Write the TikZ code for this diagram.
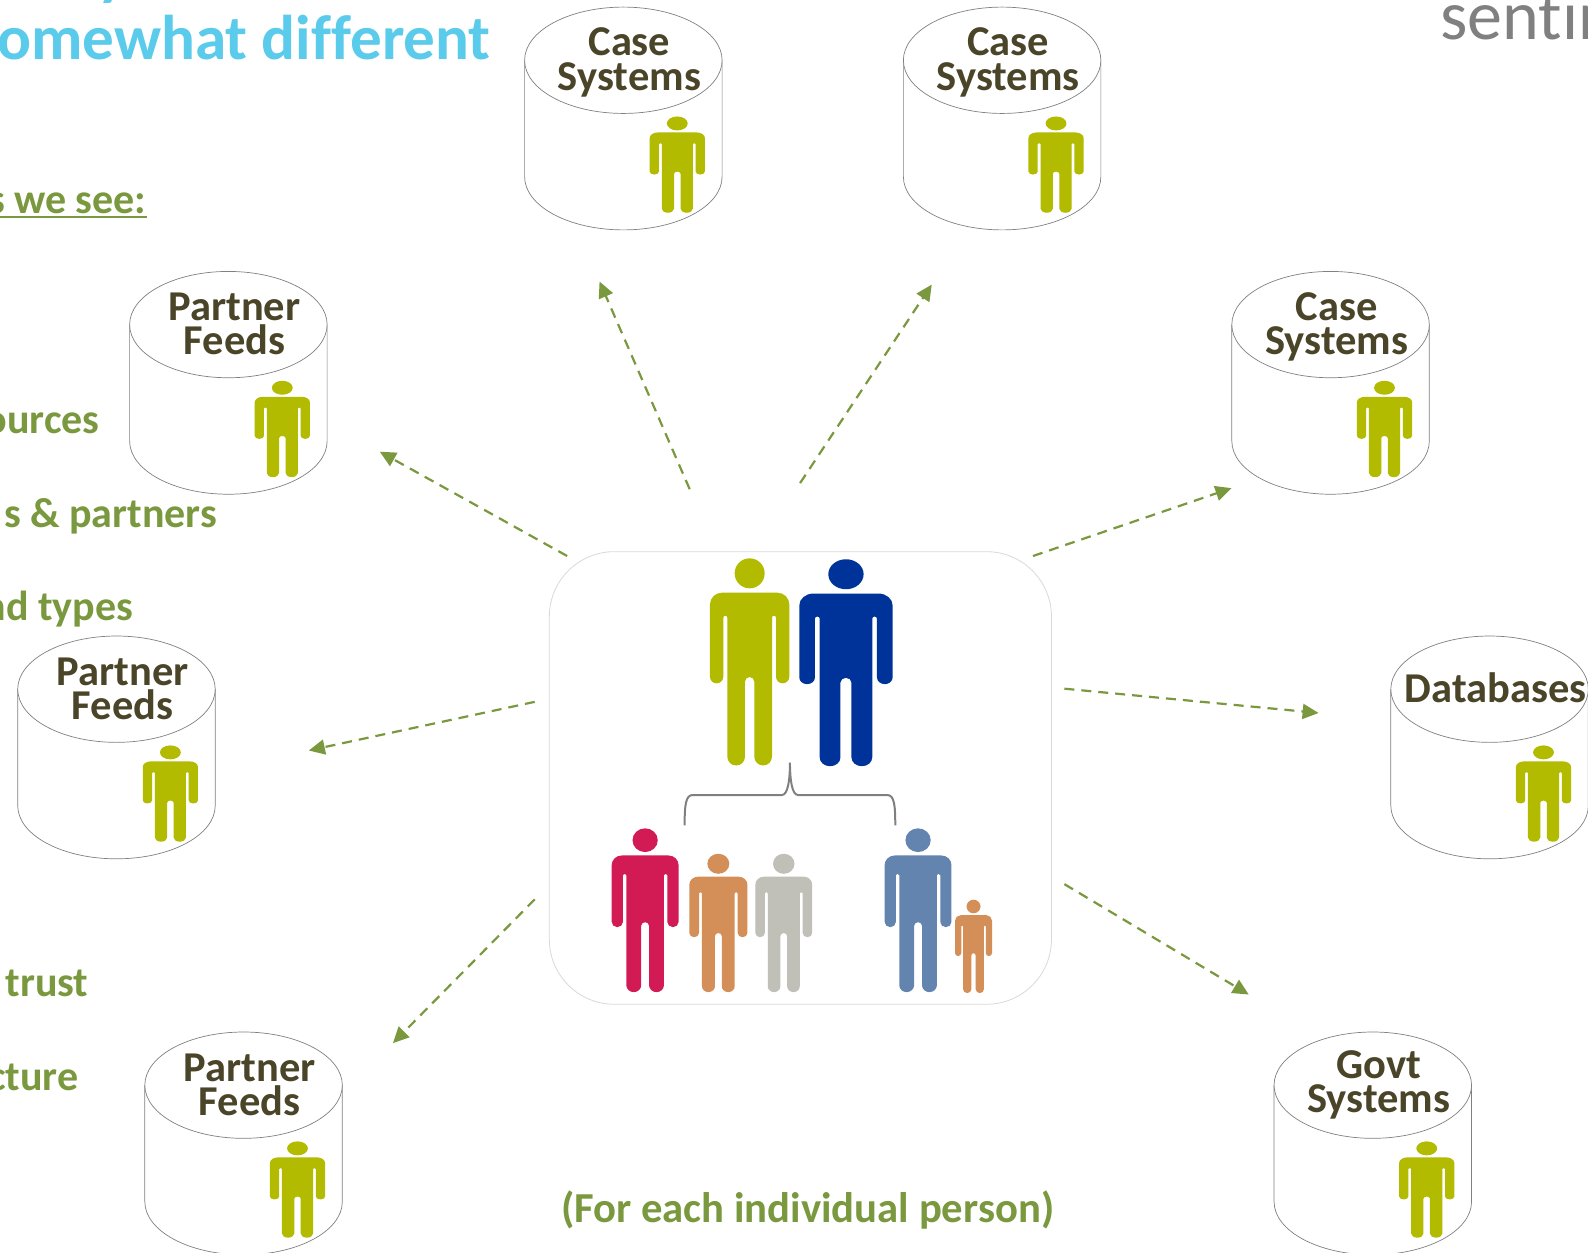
\documentclass[tikz,border=0pt]{standalone}
\usepackage{fontspec}
\setmainfont[Ligatures=NoCommon]{Carlito}
\usetikzlibrary{arrows.meta}
\definecolor{greentxt}{HTML}{7A983E}
\definecolor{titleblue}{HTML}{5BCBEB}
\definecolor{darktxt}{HTML}{4A4428}
\definecolor{pyellow}{HTML}{B2BB00}
\definecolor{pblue}{HTML}{003399}
\definecolor{pmagenta}{HTML}{D21B55}
\definecolor{porange}{HTML}{D48F58}
\definecolor{pgrey}{HTML}{C0BFB8}
\definecolor{psteel}{HTML}{6284AF}
\tikzset{
  x=1.01276pt,y=-1.01276pt,
  cylline/.style={draw=black!50,line width=0.7pt,fill=white},
  cyllabel/.style={font=\bfseries\fontsize{42.5}{34.5}\selectfont,text=darktxt,align=center,inner sep=0pt},
  greenlabel/.style={font=\bfseries\fontsize{42}{44}\selectfont,text=greentxt,inner sep=0pt},
  flow/.style={draw=greentxt,line width=2.2pt,dash pattern=on 10pt off 7pt,-{Triangle[length=16pt,width=15pt]}},
  bracketline/.style={draw=black!50,line width=2pt},
  famframe/.style={draw=black!15,line width=0.8pt,fill=white,rounded corners=65pt}
}
\newcommand{\personfig}[5]{%
  \pgfmathsetmacro{\pcx}{((#1)+(#2))/2}%
  \pgfmathsetmacro{\psx}{((#2)-(#1))/238}%
  \pgfmathsetmacro{\psy}{((#4)-(#3))/621}%
  \begin{scope}[shift={(\pcx,#3)},xscale=\psx,yscale=\psy]
    \fill[#5] (0,45) circle[radius=45];
    \fill[#5] (-119,139) arc[start angle=180,end angle=270,radius=36]
      -- (83,103) arc[start angle=270,end angle=360,radius=36]
      -- (119,355) arc[start angle=0,end angle=180,radius=20]
      -- (79,178) arc[start angle=0,end angle=-180,radius=6]
      -- (67,595) arc[start angle=0,end angle=180,radius=26.5]
      -- (14,370) arc[start angle=0,end angle=-180,radius=14]
      -- (-14,595) arc[start angle=0,end angle=180,radius=26.5]
      -- (-67,178) arc[start angle=0,end angle=-180,radius=6]
      -- (-79,355) arc[start angle=0,end angle=180,radius=20]
      -- cycle;
  \end{scope}%
}
% name, left x, top y, label, label y offset
\newcommand{\dbcyl}[5]{%
  \pgfmathsetmacro{\cylL}{#2}\pgfmathsetmacro{\cylT}{#3}%
  \pgfmathsetmacro{\cylR}{\cylL+195}\pgfmathsetmacro{\cylC}{\cylL+97.5}%
  \pgfmathsetmacro{\cylM}{\cylT+52.5}\pgfmathsetmacro{\cylB}{\cylT+167.5}%
  \path[cylline] (\cylL,\cylM) -- (\cylL,\cylB) arc[start angle=180,end angle=0,x radius=97.5,y radius=52.5] -- (\cylR,\cylM);
  \path[cylline] (\cylC,\cylM) ellipse[x radius=97.5,y radius=52.5];
  \pgfmathsetmacro{\plx}{\cylL+123.5}\pgfmathsetmacro{\prx}{\cylL+178}%
  \pgfmathsetmacro{\pty}{\cylT+108}\pgfmathsetmacro{\pby}{\cylT+203}%
  \personfig{\plx}{\prx}{\pty}{\pby}{pyellow}
  \pgfmathsetmacro{\labx}{\cylC+6}\pgfmathsetmacro{\laby}{\cylT+#5}%
  \node[cyllabel] (#1) at (\labx,\laby) {#4};%
}
\begin{document}
\begin{tikzpicture}
\useasboundingbox (0,0) rectangle (1568,1237);
\clip (0,0) rectangle (1568,1237);
\fill[white] (0,0) rectangle (1568,1237);

% title and cut-off left text
\node[anchor=base west,inner sep=0pt,text=titleblue,font=\bfseries\fontsize{63.2}{66}\selectfont] (ttl) at (-3,59) {omewhat different};
\node[anchor=base west,inner sep=0pt,text=titleblue,font=\bfseries\fontsize{63.2}{66}\selectfont] (ttly) at (96,-6) {y};
\node[anchor=base west,inner sep=0pt,text=black!50,font=\fontsize{70}{72}\selectfont] (logo) at (1422,39) {sentin};

\node[greenlabel,anchor=base east] (g1) at (145,210.5) {s we see:};
\draw[greentxt,line width=2.4pt] (0,214.5) -- (145,214.5);
\node[greenlabel,anchor=base east] (g2) at (98.5,428) {ources};
\node[greenlabel,anchor=base east] (g3) at (214.5,520.5) {s \& partners};
\node[greenlabel,anchor=base east] (g4) at (131.5,613) {nd types};
\node[greenlabel,anchor=base east] (g5) at (87.5,983.5) {trust};
\node[greenlabel,anchor=base east] (g6) at (77.5,1076.5) {cture};
\node[greenlabel,anchor=base,font=\bfseries\fontsize{42.7}{44}\selectfont] (g7) at (797.5,1207) {(For each individual person)};

% cylinders
\dbcyl{c1}{518}{7}{Case\\Systems}{54.5}
\dbcyl{c2}{892}{7}{Case\\Systems}{54.5}
\dbcyl{c3}{1216.3}{268}{Case\\Systems}{55}
\dbcyl{p1}{128}{268}{Partner\\Feeds}{52}
\dbcyl{p2}{17.5}{628}{Partner\\Feeds}{52}
\dbcyl{p3}{143}{1019}{Partner\\Feeds}{52}
\dbcyl{d1}{1373.3}{628}{Databases}{51}
\dbcyl{g8}{1258}{1019}{Govt\\Systems}{52}

% family frame
\path[famframe] (542.4,544.7) rectangle (1038.2,991.6);
\personfig{701}{779.4}{551.3}{755.7}{pyellow}
\personfig{789.2}{881.4}{552.2}{756.4}{pblue}
\personfig{604}{670}{817.9}{979.5}{pmagenta}
\personfig{680.6}{738}{843}{979.5}{porange}
\personfig{745.8}{802}{843}{979.5}{pgrey}
\personfig{873.5}{939.5}{817.9}{979.5}{psteel}
\personfig{943}{979.5}{888.4}{980.5}{porange}
\draw[bracketline] (676,815) .. controls (676,795) and (677,785) .. (684,785)
  -- (772,785) .. controls (778,785) and (780,770) .. (780,753)
  .. controls (780,770) and (782,785) .. (788,785)
  -- (876,785) .. controls (883,785) and (884,795) .. (884,815);

% arrows
\coordinate (a1s) at (681,483); \coordinate (a1e) at (592,278);
\coordinate (a2s) at (790,477); \coordinate (a2e) at (920,281);
\coordinate (a3s) at (1020,549); \coordinate (a3e) at (1216,482);
\coordinate (a4s) at (1051,680); \coordinate (a4e) at (1302,704);
\coordinate (a5s) at (1051,873); \coordinate (a5e) at (1233,982);
\coordinate (a6s) at (528,888); \coordinate (a6e) at (388,1030);
\coordinate (a7s) at (528,693); \coordinate (a7e) at (305,741);
\coordinate (a8s) at (560,549); \coordinate (a8e) at (375,446);
\foreach \k in {1,...,8} \draw[flow] (a\k s) -- (a\k e);
\end{tikzpicture}
\end{document}
